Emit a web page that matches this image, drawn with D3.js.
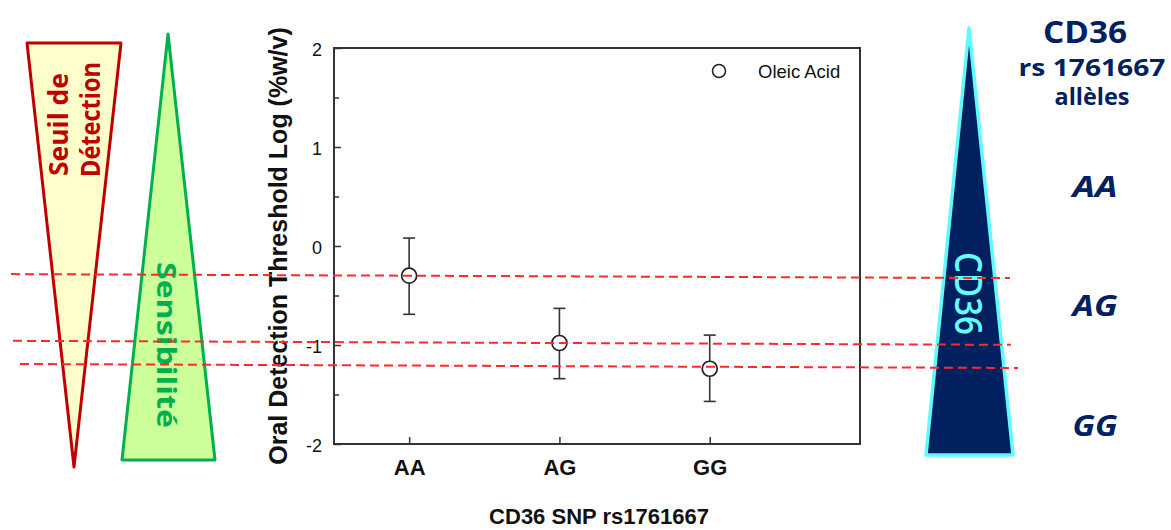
<!DOCTYPE html>
<html><head><meta charset="utf-8">
<script src="https://cdn.jsdelivr.net/npm/d3@7/dist/d3.min.js"></script>
<style>body{margin:0;background:#fff} svg{display:block}</style>
</head><body><svg id="c" width="1171" height="530"></svg>
<script>
// ---- data ----
const categories = ["AA", "AG", "GG"];
const means = [-0.30, -0.98, -1.24];
const errHigh = [0.08, -0.63, -0.90];
const errLow = [-0.69, -1.34, -1.57];
const yTickValues = [-2, -1, 0, 1, 2];
const yMinorTicks = [-1.5, -0.5, 0.5, 1.5];
const seriesName = "Oleic Acid";
const xTitle = "CD36 SNP rs1761667";
const yTitle = "Oral Detection Threshold Log (%w/v)";
const alleleHeader = ["CD36", "rs 1761667", "allèles"];
const alleleLabels = ["AA", "AG", "GG"];
const leftLabels = ["Seuil de", "Détection"];
const sensLabel = "Sensibilité";
const cd36Label = "CD36";

// ---- layout ----
const svg = d3.select("#c");
svg.append("rect").attr("width", 1171).attr("height", 530).attr("fill", "#fff");
const M = {left: 334, right: 860, top: 48, bottom: 444};
const x = d3.scaleLinear().domain([0.5, 4]).range([M.left, M.right]);
const y = d3.scaleLinear().domain([-2, 2]).range([M.bottom, M.top]);
const AX = "Liberation Sans, Arial, sans-serif";
const DECO = "Open Sans, Lato, sans-serif";

// ---- decorative triangles ----
svg.append("polygon").attr("points", "27,43 121,43 74,467")
  .attr("fill", "#ffffcc").attr("stroke", "#c00000").attr("stroke-width", 3).attr("stroke-linejoin", "round");
svg.append("polygon").attr("points", "168,34 215,460 122,460")
  .attr("fill", "#ccff99").attr("stroke", "#00b050").attr("stroke-width", 3).attr("stroke-linejoin", "round");
svg.append("polygon").attr("points", "969,28 1013,455 926,455")
  .attr("fill", "#002060").attr("stroke", "#5ffaff").attr("stroke-width", 3.5).attr("stroke-linejoin", "round");

const leftPos = [[68, 176, 103], [100, 177, 115]];
leftLabels.forEach((t, i) => {
  svg.append("text").attr("transform", `translate(${leftPos[i][0]},${leftPos[i][1]}) rotate(-90)`)
    .attr("font-family", DECO).attr("font-weight", 700).attr("font-size", 26)
    .attr("fill", "#c00000").attr("textLength", leftPos[i][2]).attr("lengthAdjust", "spacingAndGlyphs").text(t);
});
svg.append("text").attr("transform", "translate(157,262) rotate(90)")
  .attr("font-family", DECO).attr("font-weight", 700).attr("font-size", 27)
  .attr("fill", "#00b050").attr("textLength", 166).attr("lengthAdjust", "spacingAndGlyphs").text(sensLabel);
svg.append("text").attr("transform", "translate(955,252) rotate(90)")
  .attr("font-family", DECO).attr("font-weight", 600).attr("font-size", 37)
  .attr("fill", "#66ffff").attr("textLength", 83).attr("lengthAdjust", "spacingAndGlyphs").text(cd36Label);

// right side labels
const headPos = [[1085, 43, 30, 84], [1092, 76, 23, 147], [1092, 105, 23, 75]];
alleleHeader.forEach((t, i) => {
  svg.append("text").attr("x", headPos[i][0]).attr("y", headPos[i][1]).attr("text-anchor", "middle")
    .attr("font-family", DECO).attr("font-weight", 700).attr("font-size", headPos[i][2])
    .attr("fill", "#002060").attr("textLength", headPos[i][3]).attr("lengthAdjust", "spacingAndGlyphs").text(t);
});
const allelePos = [197, 316, 436];
alleleLabels.forEach((t, i) => {
  svg.append("text").attr("x", 1095).attr("y", allelePos[i]).attr("text-anchor", "middle")
    .attr("font-family", DECO).attr("font-weight", 700).attr("font-style", "italic").attr("font-size", 29)
    .attr("fill", "#002060").attr("textLength", 45).attr("lengthAdjust", "spacingAndGlyphs").text(t);
});

// ---- plot frame & axes ----
svg.append("rect").attr("x", M.left).attr("y", M.top).attr("width", M.right - M.left).attr("height", M.bottom - M.top)
  .attr("fill", "none").attr("stroke", "#333").attr("stroke-width", 2);

const yAxis = svg.append("g").attr("transform", `translate(${M.left},0)`)
  .call(d3.axisLeft(y).tickValues(yTickValues).tickFormat(d3.format("d")).tickSizeInner(-7).tickSizeOuter(0).tickPadding(12));
yAxis.select(".domain").remove();
yAxis.selectAll("line").attr("stroke", "#333").attr("stroke-width", 1.5);
yAxis.selectAll("text").attr("font-family", AX).attr("font-size", 18).attr("fill", "#111").attr("dy", "0.4em").text(d => d < 0 ? "-" + Math.abs(d) : d);

const yMinor = svg.append("g").attr("transform", `translate(${M.left},0)`)
  .call(d3.axisLeft(y).tickValues(yMinorTicks).tickFormat("").tickSizeInner(-5).tickSizeOuter(0));
yMinor.select(".domain").remove();
yMinor.selectAll("line").attr("stroke", "#333").attr("stroke-width", 1.5);

const xAxis = svg.append("g").attr("transform", `translate(0,${M.bottom})`)
  .call(d3.axisBottom(x).tickValues(categories.map((c, i) => i + 1)).tickFormat(d => categories[d - 1]).tickSizeInner(-7).tickSizeOuter(0));
xAxis.select(".domain").remove();
xAxis.selectAll("line").attr("stroke", "#333").attr("stroke-width", 1.5);
xAxis.selectAll("text").attr("font-family", AX).attr("font-weight", 700).attr("font-size", 22).attr("fill", "#111")
  .attr("y", 31).attr("dy", 0);

svg.append("text").attr("transform", `translate(287,${(M.top + M.bottom) / 2}) rotate(-90)`)
  .attr("text-anchor", "middle").attr("font-family", AX).attr("font-weight", 700).attr("font-size", 25).attr("fill", "#111").text(yTitle);
svg.append("text").attr("x", 599).attr("y", 524).attr("text-anchor", "middle")
  .attr("font-family", AX).attr("font-weight", 700).attr("font-size", 22).attr("fill", "#111").text(xTitle);

// ---- error bars & points ----
const pts = categories.map((c, i) => ({c, i, m: means[i], hi: errHigh[i], lo: errLow[i]}));
const g = svg.append("g").attr("stroke", "#333").attr("stroke-width", 1.6);
g.selectAll(".eb").data(pts).join("line").attr("x1", d => x(d.i + 1)).attr("x2", d => x(d.i + 1))
  .attr("y1", d => y(d.hi)).attr("y2", d => y(d.lo));
g.selectAll(".ct").data(pts).join("line").attr("x1", d => x(d.i + 1) - 6).attr("x2", d => x(d.i + 1) + 6)
  .attr("y1", d => y(d.hi)).attr("y2", d => y(d.hi));
g.selectAll(".cb").data(pts).join("line").attr("x1", d => x(d.i + 1) - 6).attr("x2", d => x(d.i + 1) + 6)
  .attr("y1", d => y(d.lo)).attr("y2", d => y(d.lo));
g.selectAll("circle").data(pts).join("circle").attr("cx", d => x(d.i + 1)).attr("cy", d => y(d.m)).attr("r", 7.5)
  .attr("fill", "#fff").attr("stroke", "#222").attr("stroke-width", 1.7);

// legend
svg.append("circle").attr("cx", 719).attr("cy", 71).attr("r", 6.5).attr("fill", "#fff").attr("stroke", "#222").attr("stroke-width", 1.5);
svg.append("text").attr("x", 758).attr("y", 77.5).attr("font-family", AX).attr("font-size", 18.5).attr("fill", "#111").text(seriesName);

// ---- red dashed reference lines through means ----
const lineStart = [11, 13, 20], lineEnd = [1010, 1011, 1018];
const slope = 0.004;
svg.append("g").selectAll("line").data(pts).join("line")
  .attr("x1", d => lineStart[d.i]).attr("x2", d => lineEnd[d.i])
  .attr("y1", d => y(d.m) + slope * (lineStart[d.i] - x(d.i + 1)) - (d.i === 2 ? 2 : 0))
  .attr("y2", d => y(d.m) + slope * (lineEnd[d.i] - x(d.i + 1)) - (d.i === 2 ? 2 : 0))
  .attr("stroke", "#ff2a2a").attr("stroke-width", 2).attr("stroke-dasharray", "9,5");
</script></body></html>
